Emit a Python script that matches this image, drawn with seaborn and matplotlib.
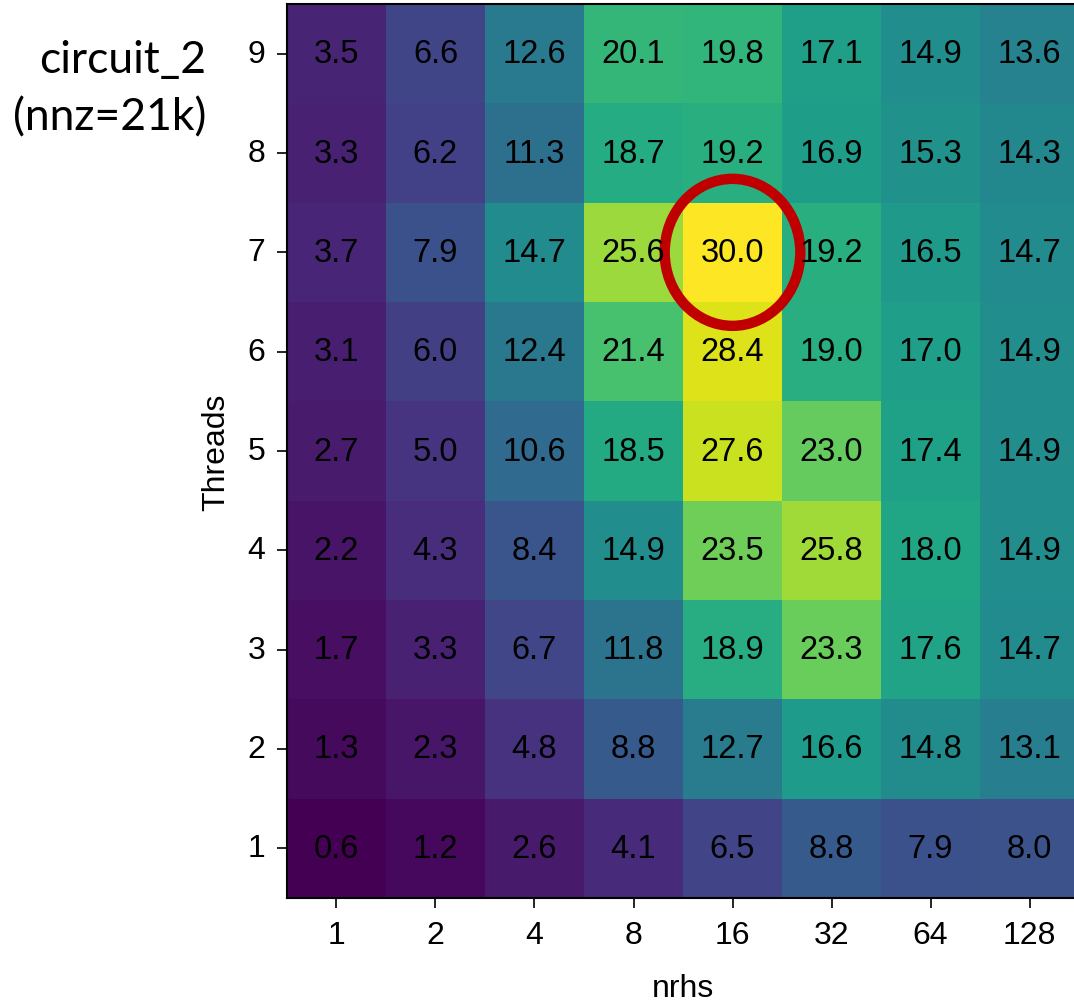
import numpy as np
import pandas as pd
import matplotlib
matplotlib.use("Agg")
import matplotlib.pyplot as plt
import seaborn as sns
from matplotlib.patches import Ellipse

nrhs = [1, 2, 4, 8, 16, 32, 64, 128]
threads = [9, 8, 7, 6, 5, 4, 3, 2, 1]

t9 = [3.5, 6.6, 12.6, 20.1, 19.8, 17.1, 14.9, 13.6]
t8 = [3.3, 6.2, 11.3, 18.7, 19.2, 16.9, 15.3, 14.3]
t7 = [3.7, 7.9, 14.7, 25.6, 30.0, 19.2, 16.5, 14.7]
t6 = [3.1, 6.0, 12.4, 21.4, 28.4, 19.0, 17.0, 14.9]
t5 = [2.7, 5.0, 10.6, 18.5, 27.6, 23.0, 17.4, 14.9]
t4 = [2.2, 4.3, 8.4, 14.9, 23.5, 25.8, 18.0, 14.9]
t3 = [1.7, 3.3, 6.7, 11.8, 18.9, 23.3, 17.6, 14.7]
t2 = [1.3, 2.3, 4.8, 8.8, 12.7, 16.6, 14.8, 13.1]
t1 = [0.6, 1.2, 2.6, 4.1, 6.5, 8.8, 7.9, 8.0]

df = pd.DataFrame([t9, t8, t7, t6, t5, t4, t3, t2, t1], index=threads, columns=nrhs)

plt.rcParams['font.family'] = ['Liberation Sans', 'DejaVu Sans']

fig = plt.figure(figsize=(10.74, 10.04), dpi=100)
ax = fig.add_axes([0.2672, 0.1046, 0.7375, 0.8904])

sns.heatmap(df, ax=ax, cmap='viridis', annot=True, fmt='.1f', cbar=False,
            annot_kws={'color': 'black', 'fontsize': 23.5})

for s in ax.spines.values():
    s.set_visible(True)
    s.set_color('black')
    s.set_linewidth(1.5)

ax.tick_params(axis='both', labelsize=23, length=7.5, width=1.2, colors='black', pad=8)
ax.set_yticklabels(threads, rotation=0)
ax.set_xticklabels(nrhs, rotation=0)
ax.set_xlabel('nrhs', fontsize=23, labelpad=17)
ax.set_ylabel('Threads', fontsize=23, labelpad=12)

# highlight best cell
r = threads.index(7)
c = nrhs.index(16)
ax.add_patch(Ellipse((c + 0.5, r + 0.5), 1.37, 1.48, fill=False,
                     edgecolor='#C00000', linewidth=7.5, clip_on=False))

fig.text(0.192, 0.94, 'circuit_2', ha='right', va='center', fontsize=32,
         family=['Lato', 'DejaVu Sans'])
fig.text(0.192, 0.883, '(nnz=21k)', ha='right', va='center', fontsize=32,
         family=['Lato', 'DejaVu Sans'])

fig.savefig('out.png', dpi=100)
